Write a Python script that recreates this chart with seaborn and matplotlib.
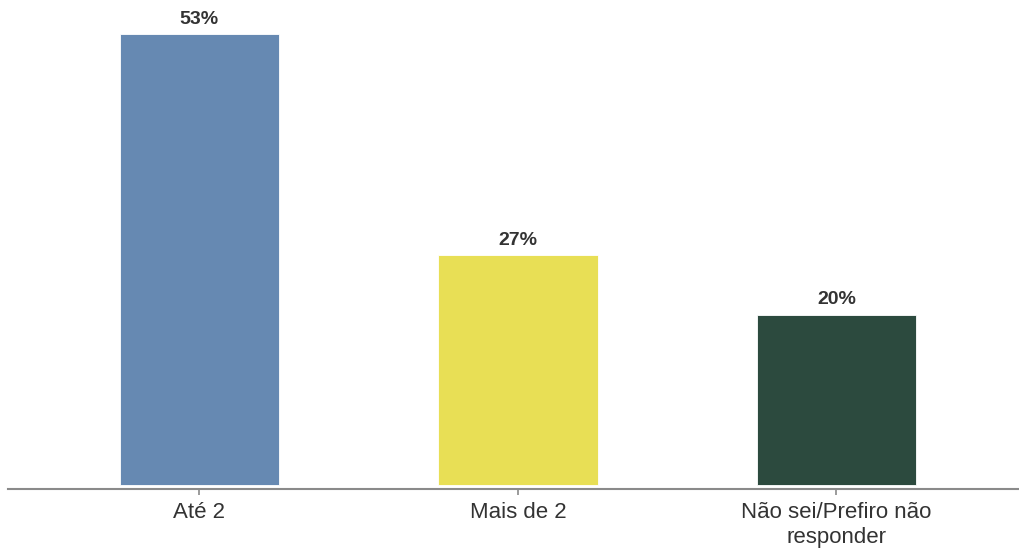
import matplotlib
matplotlib.use('Agg')
import matplotlib.pyplot as plt
import seaborn as sns
import pandas as pd

categories = ["Até 2", "Mais de 2", "Não sei/Prefiro não\nresponder"]
values = [53, 27, 20]
colors = ["#6689B2", "#E8DF55", "#2C4A3E"]

sns.set_theme(style="white")
plt.rcParams['font.family'] = ['Liberation Sans', 'DejaVu Sans']

df = pd.DataFrame({"cat": categories, "val": values})

fig = plt.figure(figsize=(10.19, 5.56), dpi=100)
ax = fig.add_axes([8 / 1019, 1 - 489 / 556, 1011 / 1019, 489 / 556])

sns.barplot(data=df, x="cat", y="val", hue="cat", palette=colors,
            width=0.5, legend=False, ax=ax, saturation=1,
            edgecolor="white", linewidth=0.6)

for i, v in enumerate(values):
    ax.text(i, v + 0.75, f"{v}%", ha="center", va="bottom",
            fontsize=14, fontweight="bold", color="#333333")

ax.set_xlim(-0.601, 2.573)
ax.set_ylim(-0.47, 57.0)
ax.set_xlabel("")
ax.set_ylabel("")
ax.set_yticks([])
for s in ["top", "right", "left"]:
    ax.spines[s].set_visible(False)
ax.spines["bottom"].set_color("#8a8a8a")
ax.spines["bottom"].set_linewidth(1.5)
ax.tick_params(axis="x", bottom=True, length=4, width=1.2, color="#8a8a8a",
               labelsize=16, labelcolor="#333333", pad=5)
for lbl in ax.get_xticklabels():
    lbl.set_linespacing(1.25)
ax.set_facecolor("white")

fig.savefig("out.png", dpi=100)
